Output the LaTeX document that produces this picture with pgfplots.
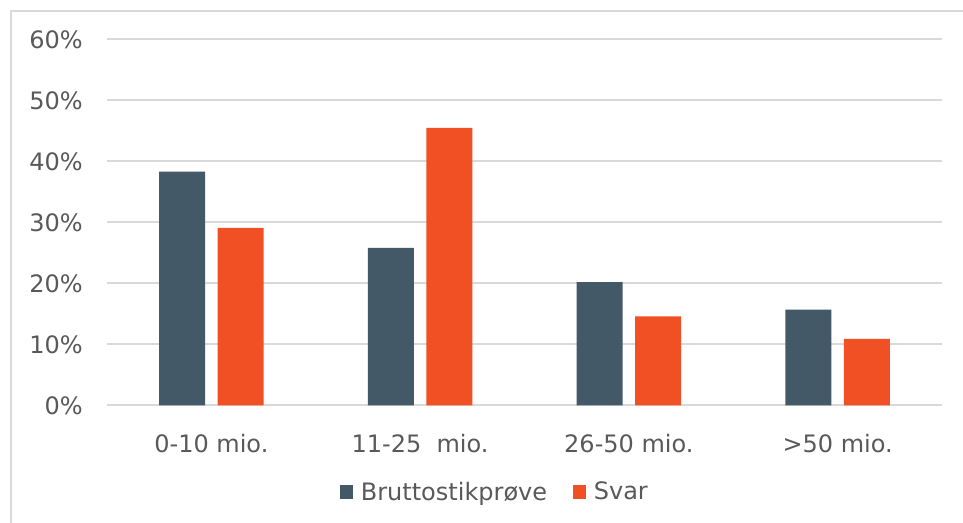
\documentclass[border=0pt]{standalone}
\usepackage{pgfplots}
\pgfplotsset{compat=1.18}
\usepackage{fontspec}
\setmainfont{DejaVu Sans}
\definecolor{cBrutto}{HTML}{435967}
\definecolor{cSvar}{HTML}{F05023}
\definecolor{txt}{HTML}{595959}
\definecolor{gridc}{HTML}{D9D9D9}
\begin{document}
\begin{tikzpicture}
\useasboundingbox (0,0) rectangle (722.25pt,391.5pt);
\draw[gridc, line width=1.2pt] (8.25pt,-20pt) rectangle (760pt,383.25pt);
\begin{axis}[
  at={(80.25pt,87.5pt)}, anchor=south west,
  scale only axis, width=626.25pt, height=274.5pt,
  ybar=9.4pt, bar width=34.5pt,
  xmin=-0.5, xmax=3.5, ymin=0, ymax=60,
  xtick={0,1,2,3},
  xticklabels={0-10 mio., 11-25\ \ mio., 26-50 mio., >50 mio.},
  ytick={0,10,...,60},
  yticklabel={\pgfmathprintnumber{\tick}\%},
  /pgf/number format/assume math mode=true,
  axis line style={draw=none},
  tick style={draw=none},
  ymajorgrids, grid style={gridc, line width=1.3pt},
  tick label style={font=\fontsize{18pt}{21pt}\selectfont, text=txt},
  yticklabel style={inner sep=0pt, xshift=-18pt},
  xticklabel style={inner sep=0pt, yshift=-17pt},
  legend style={at={(0.4647,-0.237)}, anchor=center, draw=none, fill=none,
    legend columns=2, font=\fontsize{18pt}{21pt}\selectfont, text=txt,
    /tikz/every even column/.append style={column sep=17pt},
    inner sep=0pt},
  legend image code/.code={\path[#1] (0pt,-5pt) rectangle (10pt,5pt); \path (14pt,0pt);},
]
\addplot[fill=cBrutto, draw=none] coordinates {(0,38.3) (1,25.8) (2,20.2) (3,15.7)};
\addplot[fill=cSvar, draw=none] coordinates {(0,29.1) (1,45.5) (2,14.6) (3,10.9)};
\legend{Bruttostikprøve, Svar}
\end{axis}
\end{tikzpicture}
\end{document}
